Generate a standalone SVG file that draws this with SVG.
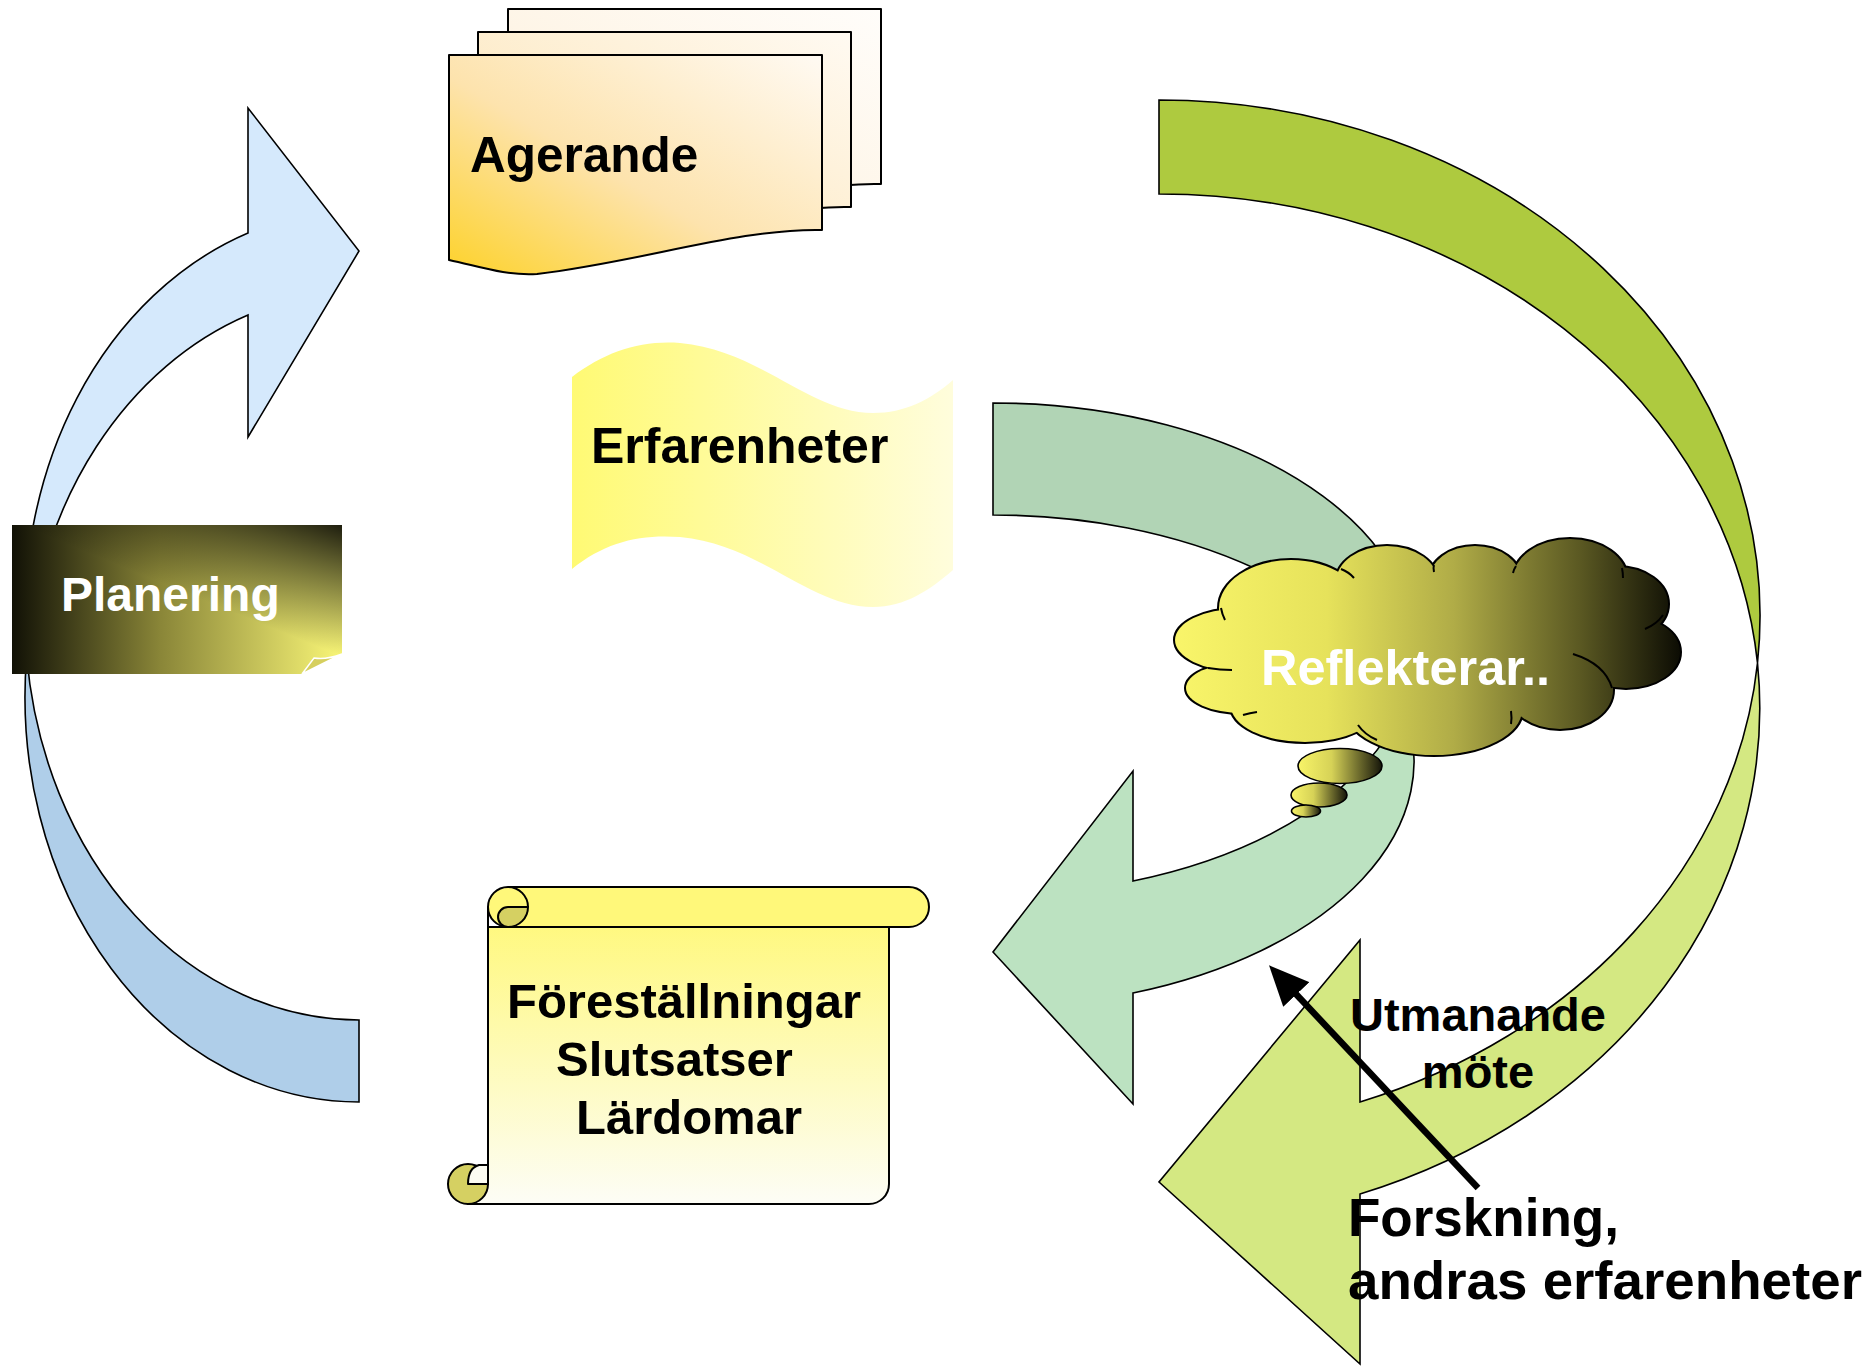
<svg xmlns="http://www.w3.org/2000/svg" width="1876" height="1366" viewBox="0 0 1876 1366">
<defs>
<style>
.lbl{font-family:"Liberation Sans",Arial,sans-serif;font-weight:bold;fill:#000}
.ol{stroke:#000;stroke-width:1.6;stroke-linejoin:miter}
.ol2{stroke:#000;stroke-width:2;stroke-linejoin:round}
</style>
<linearGradient id="gFront" x1="0" y1="1" x2="1" y2="0">
<stop offset="0" stop-color="#fdd22a"/><stop offset="0.45" stop-color="#fde3ad"/><stop offset="1" stop-color="#fffaf3"/>
</linearGradient>
<linearGradient id="gMid" x1="0" y1="1" x2="1" y2="0">
<stop offset="0" stop-color="#fce2ae"/><stop offset="1" stop-color="#fffaf2"/>
</linearGradient>
<linearGradient id="gBack" x1="0" y1="1" x2="1" y2="0">
<stop offset="0" stop-color="#fdeed6"/><stop offset="1" stop-color="#fffdfa"/>
</linearGradient>
<linearGradient id="gFlag" x1="0" y1="0" x2="1" y2="0">
<stop offset="0" stop-color="#fffa74"/><stop offset="1" stop-color="#fffddc"/>
</linearGradient>
<linearGradient id="gPlanH" x1="0" y1="0" x2="1" y2="0">
<stop offset="0" stop-color="#111106"/><stop offset="0.45" stop-color="#8a8638"/><stop offset="1" stop-color="#f9f677"/>
</linearGradient>
<linearGradient id="gPlanV" gradientUnits="userSpaceOnUse" x1="342" y1="525" x2="296" y2="638">
<stop offset="0" stop-color="#000" stop-opacity="0.88"/><stop offset="1" stop-color="#000" stop-opacity="0"/>
</linearGradient>
<linearGradient id="gScroll" x1="0" y1="0" x2="0" y2="1">
<stop offset="0" stop-color="#fff878"/><stop offset="1" stop-color="#fdfdf6"/>
</linearGradient>
<linearGradient id="gCloud" gradientUnits="userSpaceOnUse" x1="1175" y1="0" x2="1682" y2="0">
<stop offset="0" stop-color="#f9f56a"/><stop offset="0.3" stop-color="#e6e25b"/><stop offset="0.55" stop-color="#b0ac47"/><stop offset="0.8" stop-color="#5a5822"/><stop offset="1" stop-color="#0b0b03"/>
</linearGradient>
<linearGradient id="gBub" x1="0" y1="0" x2="1" y2="0">
<stop offset="0" stop-color="#f8f468"/><stop offset="0.4" stop-color="#d6d257"/><stop offset="1" stop-color="#15150a"/>
</linearGradient>
<marker id="ah" markerUnits="userSpaceOnUse" markerWidth="40" markerHeight="36" refX="2" refY="18" orient="auto" viewBox="0 0 40 36">
<path d="M0 0 L40 18 L0 36 Z" fill="#000"/>
</marker>
</defs>
<rect width="1876" height="1366" fill="#fff"/>

<g id="arrow-blue">
<path class="ol" fill="#d5e9fc" d="M26.7 656 A334 405 0 0 1 248 233 L248 108 L359 251 L248 437 L248 315 A334 405 0 0 0 26.7 656 Z"/>
<path class="ol" fill="#afcee9" d="M26.7 656 A334 405 0 0 0 359 1102 L359 1020 A334 405 0 0 1 26.7 656 Z"/>
</g>

<g id="planering">
<path fill="url(#gPlanH)" d="M12 525 H342 V654 L302 674 H12 Z"/>
<path fill="url(#gPlanV)" d="M12 525 H342 V654 L302 674 H12 Z"/>
<path fill="#d6cf5e" stroke="#fff" stroke-width="1.5" d="M302 674 L314 658 Q326 660 342 654 Z"/>
<text class="lbl" x="61" y="611" font-size="48" style="fill:#fff">Planering</text>
</g>

<g id="agerande">
<path class="ol2" fill="url(#gBack)" transform="translate(59,-46)" d="M449 55 H822 V230 C740 228 640 262 537 274 C505 276 478 266 449 260 Z"/>
<path class="ol2" fill="url(#gMid)" transform="translate(29,-23)" d="M449 55 H822 V230 C740 228 640 262 537 274 C505 276 478 266 449 260 Z"/>
<path class="ol2" fill="url(#gFront)" d="M449 55 H822 V230 C740 228 640 262 537 274 C505 276 478 266 449 260 Z"/>
<text class="lbl" x="470" y="172" font-size="49.5">Agerande</text>
</g>

<g id="erfarenheter">
<path fill="url(#gFlag)" d="M572 377 C605 352 640 340 680 343 C760 350 810 413 873 413 C905 413 930 400 953 380 L953 570 C930 590 905 607 873 607 C810 607 760 544 680 537 C640 534 605 542 572 569 Z"/>
<text class="lbl" x="591" y="463" font-size="50">Erfarenheter</text>
</g>

<g id="scroll">
<path class="ol2" fill="url(#gScroll)" d="M488 907 V1184 H468 A20 20 0 0 0 468 1204 H869 A20 20 0 0 0 889 1184 V927 H488"/>
<path class="ol2" fill="#fff87a" d="M508 887 H909 A20 20 0 0 1 909 927 H508 A20 20 0 0 1 508 887 Z"/>
<path class="ol2" fill="#d5d062" d="M508 907 A10 10 0 0 0 508 927 A20 20 0 0 0 528 907 Z"/>
<path class="ol2" fill="none" d="M508 887 A20 20 0 0 1 528 907"/>
<circle class="ol2" cx="468" cy="1184" r="20" fill="#d5d062"/>
<path class="ol2" fill="#fcfcf2" d="M488 1165 L479 1165 Q468 1168 468 1184 L488 1184 Z"/>
<text class="lbl" x="507" y="1018" font-size="49">Föreställningar</text>
<text class="lbl" x="556" y="1076" font-size="49">Slutsatser</text>
<text class="lbl" x="576" y="1134" font-size="49">Lärdomar</text>
</g>

<g id="arrow-teal">
<path class="ol" fill="#b1d4b5" d="M993 403 A421 246 0 0 1 1403 705 A421 246 0 0 0 993 515 Z"/>
<path class="ol" fill="#bce2c1" d="M1403 705 A421 246 0 0 1 1133 993 L1133 1104 L993 952 L1133 771 L1133 881 A421 246 0 0 0 1403 705 Z"/>
</g>

<g id="arrow-green">
<path class="ol" fill="#aeca3f" d="M1159 100 A601 516 0 0 1 1757.5 663 A601 516 0 0 0 1159 194 Z"/>
<path class="ol" fill="#d4e882" d="M1757.5 663 A601 516 0 0 1 1360 1194 L1360 1364 L1159 1182 L1360 940 L1360 1102 A601 516 0 0 0 1757.5 663 Z"/>
</g>

<g id="cloud">
<g stroke="#000" stroke-width="4" fill="none">
<ellipse cx="1238" cy="640" rx="63" ry="31"/>
<ellipse cx="1242" cy="688" rx="56" ry="25"/>
<ellipse cx="1305" cy="706" rx="74" ry="36"/>
<ellipse cx="1434" cy="710" rx="88" ry="45"/>
<ellipse cx="1560" cy="690" rx="53" ry="39"/>
<ellipse cx="1626" cy="652" rx="54" ry="36"/>
<ellipse cx="1617" cy="604" rx="51" ry="37"/>
<ellipse cx="1570" cy="579" rx="57" ry="40"/>
<ellipse cx="1475" cy="580" rx="46" ry="34"/>
<ellipse cx="1387" cy="582" rx="51" ry="36"/>
<ellipse cx="1291" cy="608" rx="72" ry="48"/>
</g>
<g fill="url(#gCloud)">
<ellipse cx="1238" cy="640" rx="63" ry="31"/>
<ellipse cx="1242" cy="688" rx="56" ry="25"/>
<ellipse cx="1305" cy="706" rx="74" ry="36"/>
<ellipse cx="1434" cy="710" rx="88" ry="45"/>
<ellipse cx="1560" cy="690" rx="53" ry="39"/>
<ellipse cx="1626" cy="652" rx="54" ry="36"/>
<ellipse cx="1617" cy="604" rx="51" ry="37"/>
<ellipse cx="1570" cy="579" rx="57" ry="40"/>
<ellipse cx="1475" cy="580" rx="46" ry="34"/>
<ellipse cx="1387" cy="582" rx="51" ry="36"/>
<ellipse cx="1291" cy="608" rx="72" ry="48"/>
<ellipse cx="1430" cy="648" rx="200" ry="72"/>
</g>
<g stroke="#000" stroke-width="2" fill="none">
<path d="M1221 608 Q1222 614 1225 620"/>
<path d="M1208 668 Q1220 670 1232 670"/>
<path d="M1243 715 Q1250 713 1257 712"/>
<path d="M1358 725 Q1365 735 1377 740"/>
<path d="M1511 711 Q1512 718 1511 724"/>
<path d="M1573 654 Q1605 664 1612 688"/>
<path d="M1645 629 Q1657 624 1663 615"/>
<path d="M1622 568 Q1623 573 1623 578"/>
<path d="M1516 566 Q1514 569 1513 573"/>
<path d="M1434 565 Q1433 568 1434 572"/>
<path d="M1341 569 Q1349 572 1354 578"/>
</g>
<ellipse class="ol" cx="1340" cy="766" rx="42" ry="17.5" fill="url(#gBub)"/>
<ellipse class="ol" cx="1319" cy="795" rx="28" ry="12" fill="url(#gBub)"/>
<ellipse class="ol" cx="1306" cy="811" rx="14.5" ry="6" fill="url(#gBub)"/>
<text class="lbl" x="1261" y="685" font-size="50.5" style="fill:#fff">Reflekterar..</text>
</g>

<g id="labels">
<text class="lbl" x="1478" y="1031" font-size="47" text-anchor="middle">Utmanande</text>
<text class="lbl" x="1478" y="1088" font-size="47" text-anchor="middle">möte</text>
<text class="lbl" x="1348" y="1236" font-size="53">Forskning,</text>
<text class="lbl" x="1348" y="1299" font-size="53" textLength="514" lengthAdjust="spacingAndGlyphs">andras erfarenheter</text>
</g>

<g id="connectors">
<path d="M1478 1188 L1295 993" stroke="#000" stroke-width="6.5" fill="none" marker-end="url(#ah)"/>
</g>
</svg>
